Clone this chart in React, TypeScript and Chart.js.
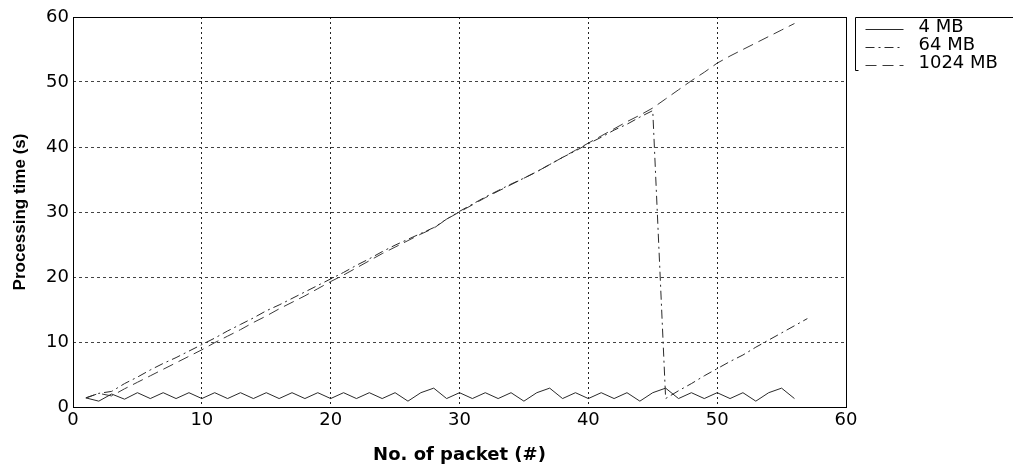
import React, { useEffect, useRef } from "react";
import { Chart, registerables } from "chart.js";

Chart.register(...registerables);

const packets = [
  1, 2, 3, 4, 5, 6, 7, 8, 9, 10, 11, 12, 13, 14, 15, 16, 17, 18, 19, 20,
  21, 22, 23, 24, 25, 26, 27, 28, 29, 30, 31, 32, 33, 34, 35, 36, 37, 38, 39, 40,
  41, 42, 43, 44, 45, 46, 47, 48, 49, 50, 51, 52, 53, 54, 55, 56, 57,
];

const mb4 = [
  1.4, 0.9, 2.0, 1.2, 2.2, 1.3, 2.2, 1.3, 2.2, 1.3, 2.2, 1.3, 2.2, 1.3, 2.2, 1.3, 2.2, 1.3, 2.2, 1.3,
  2.2, 1.3, 2.2, 1.3, 2.2, 0.9, 2.2, 2.9, 1.3, 2.2, 1.3, 2.2, 1.3, 2.2, 0.9, 2.2, 2.9, 1.3, 2.2, 1.3,
  2.2, 1.3, 2.2, 0.9, 2.2, 2.9, 1.3, 2.2, 1.3, 2.2, 1.3, 2.2, 0.9, 2.2, 2.9, 1.3,
];

const mb64 = [
  1.4, 2.1, 2.4, 3.6, 4.6, 5.7, 6.7, 7.6, 8.6, 9.6, 10.6, 11.7, 12.7, 13.7, 14.8, 15.7, 16.7, 17.7, 18.7, 19.7,
  20.7, 21.8, 22.8, 23.9, 24.9, 25.8, 26.7, 27.6, 28.9, 30.1, 31.2, 32.3, 33.3, 34.3, 35.2, 36.2, 37.3, 38.4, 39.4, 40.5,
  41.5, 42.6, 43.5, 44.6, 45.6, 1.3, 2.5, 3.6, 4.8, 5.9, 7.0, 8.0, 9.2, 10.3, 11.4, 12.5, 13.6,
];

const mb1024 = [
  1.4, 2.1, 1.7, 2.8, 3.8, 4.8, 5.8, 6.8, 7.8, 8.8, 9.9, 10.9, 11.9, 13.0, 14.0, 15.1, 16.1, 17.1, 18.2, 19.3,
  20.3, 21.4, 22.5, 23.6, 24.6, 25.6, 26.6, 27.5, 28.9, 30.0, 31.1, 32.2, 33.2, 34.2, 35.2, 36.2, 37.3, 38.4, 39.5, 40.6,
  41.7, 42.8, 43.9, 44.9, 46.0, 47.4, 48.8, 50.2, 51.5, 52.9, 54.0, 55.0, 56.0, 57.0, 58.0, 59.0,
];

const seriesLabels = ["4 MB", "64 MB", "1024 MB"];
const xTitle = "No. of packet (#)";
const yTitle = "Processing time (s)";

const toPoints = (vals: number[]) => vals.map((v, i) => ({ x: packets[i], y: v }));

const bgPlugin = {
  id: "bg",
  beforeDraw(chart: any) {
    const { ctx, width, height } = chart;
    ctx.save();
    ctx.fillStyle = "#fff";
    ctx.fillRect(0, 0, width, height);
    ctx.restore();
  },
};

const boxPlugin = {
  id: "box",
  afterDraw(chart: any) {
    const { ctx, chartArea: a } = chart;
    ctx.save();
    ctx.strokeStyle = "#000";
    ctx.lineWidth = 1;
    ctx.setLineDash([]);
    ctx.strokeRect(Math.round(a.left) + 0.5, Math.round(a.top) + 0.5, Math.round(a.right - a.left), Math.round(a.bottom - a.top));
    ctx.restore();
  },
};

const legendPlugin = {
  id: "customLegend",
  afterDraw(chart: any) {
    const { ctx } = chart;
    const a = chart.chartArea;
    const left = a.right + 9.5;
    const top = a.top + 0.5;
    ctx.save();
    ctx.strokeStyle = "#000";
    ctx.lineWidth = 1;
    ctx.setLineDash([]);
    ctx.beginPath();
    ctx.moveTo(1013, top);
    ctx.lineTo(left, top);
    ctx.lineTo(left, top + 53);
    ctx.lineTo(left + 3, top + 53);
    ctx.stroke();
    const rows = [27, 45, 63];
    chart.data.datasets.forEach((ds: any, i: number) => {
      const y = rows[i];
      ctx.strokeStyle = ds.borderColor;
      ctx.lineWidth = 1;
      ctx.setLineDash(ds.borderDash || []);
      ctx.beginPath();
      ctx.moveTo(left + 10, y + 2.5);
      ctx.lineTo(left + 48, y + 2.5);
      ctx.stroke();
      ctx.setLineDash([]);
      ctx.fillStyle = "#000";
      ctx.font = "18px 'DejaVu Sans'";
      ctx.textBaseline = "middle";
      ctx.textAlign = "left";
      ctx.fillText(ds.label, left + 63, y);
    });
    ctx.restore();
  },
};

export default function App() {
  const ref = useRef<HTMLCanvasElement>(null);
  useEffect(() => {
    if (!ref.current) return;
    const chart = new Chart(ref.current, {
      type: "line",
      data: {
        datasets: [
          {
            label: seriesLabels[0],
            data: toPoints(mb4),
            borderColor: "#2a2a2a",
            borderWidth: 1,
            borderDash: [],
            pointRadius: 0,
            tension: 0,
          },
          {
            label: seriesLabels[1],
            data: toPoints(mb64),
            borderColor: "#2a2a2a",
            borderWidth: 1,
            borderDash: [9, 4, 2, 4],
            pointRadius: 0,
            tension: 0,
          },
          {
            label: seriesLabels[2],
            data: toPoints(mb1024),
            borderColor: "#3a3a3a",
            borderWidth: 1,
            borderDash: [11, 6],
            pointRadius: 0,
            tension: 0,
          },
        ],
      },
      options: {
        responsive: false,
        animation: false,
        layout: { padding: { left: 0, top: 17, right: 167, bottom: 0 } },
        plugins: {
          legend: { display: false },
          tooltip: { enabled: false },
        },
        scales: {
          x: {
            type: "linear",
            min: 0,
            max: 60,
            ticks: {
              stepSize: 10,
              color: "#000",
              padding: 3,
              font: { family: "'DejaVu Sans'", size: 18 },
            },
            grid: { color: "#222", drawTicks: false },
            border: { display: false, dash: [2, 3] },
            title: {
              display: true,
              text: xTitle,
              color: "#000",
              font: { family: "'DejaVu Sans'", size: 18, weight: "bold" },
              padding: { top: 0, bottom: 6 },
            },
            afterFit(scale: any) {
              scale.height = 65;
            },
          },
          y: {
            type: "linear",
            min: 0,
            max: 60,
            ticks: {
              stepSize: 10,
              color: "#000",
              padding: 4,
              font: { family: "'DejaVu Sans'", size: 18 },
            },
            grid: { color: "#444", drawTicks: false },
            border: { display: false, dash: [3, 3] },
            title: {
              display: true,
              text: yTitle,
              color: "#000",
              font: { family: "'Liberation Sans'", size: 17, weight: "bold" },
              padding: { top: 10, bottom: 0 },
            },
            afterFit(scale: any) {
              scale.width = 73;
            },
          },
        },
      } as any,
      plugins: [bgPlugin, boxPlugin, legendPlugin],
    });
    return () => chart.destroy();
  }, []);
  return (
    <div style={{ position: "absolute", left: 0, top: 0, width: 1013, height: 472 }}>
      <canvas ref={ref} width={1013} height={472} />
    </div>
  );
}
